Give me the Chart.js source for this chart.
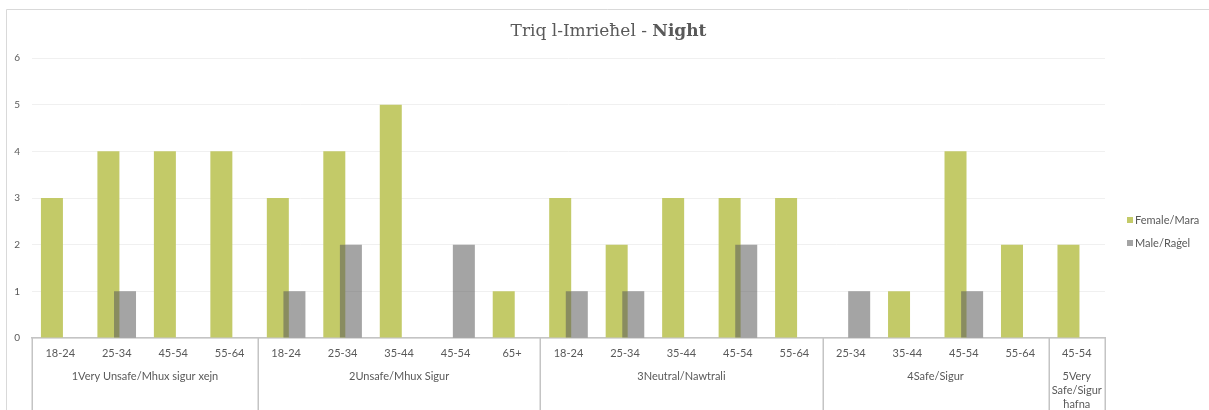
<!DOCTYPE html>
<html>
<head>
<meta charset="utf-8">
<script src="https://cdn.jsdelivr.net/npm/chart.js@4.4.1/dist/chart.umd.min.js"></script>
<style>
  html, body { margin: 0; padding: 0; background: #ffffff; }
  #wrap { width: 1209px; height: 410px; position: relative; }
</style>
</head>
<body>
<div id="wrap"><canvas id="chart" width="1209" height="410"></canvas></div>
<script>
// Survey answers: how safe respondents feel on Triq l-Imrieħel at night,
// split by answer group and age band.
const titleMain = 'Triq l-Imrieħel - ';
const titleBold = 'Night';
const groupLabels = ['1Very Unsafe/Mhux sigur xejn', '2Unsafe/Mhux Sigur', '3Neutral/Nawtrali', '4Safe/Sigur', '5Very Safe/Sigur ħafna'];
const groupSizes = [4, 5, 5, 4, 1];
const ageLabels = [
  '18-24', '25-34', '45-54', '55-64',
  '18-24', '25-34', '35-44', '45-54', '65+',
  '18-24', '25-34', '35-44', '45-54', '55-64',
  '25-34', '35-44', '45-54', '55-64',
  '45-54'
];
const femaleCounts = [3, 4, 4, 4, 3, 4, 5, null, 1, 3, 2, 3, 3, 3, null, 1, 4, 2, 2];
const maleCounts = [null, 1, null, null, 1, 2, null, 2, null, 1, 1, null, 2, null, 1, null, 1, null, null];
const seriesNames = ['Female/Mara', 'Male/Raġel'];
const yMax = 6;

const GREEN = 'rgb(195,202,104)';
const GREY = 'rgba(89,89,89,0.55)';
const TEXT = '#595959';
const LINE = '#c4c4c4';
const FONT = 'Lato, "Open Sans", sans-serif';

// White background plus the thin frame round the chart.
const framePlugin = {
  id: 'frame',
  beforeDraw(chart) {
    const ctx = chart.ctx;
    ctx.save();
    ctx.fillStyle = '#ffffff';
    ctx.fillRect(0, 0, chart.width, chart.height);
    ctx.strokeStyle = '#d9d9d9';
    ctx.lineWidth = 1;
    ctx.beginPath();
    ctx.moveTo(6.5, chart.height);
    ctx.lineTo(6.5, 9.5);
    ctx.lineTo(chart.width, 9.5);
    ctx.stroke();
    ctx.restore();
  }
};

// Title with the last word in bold.
const titlePlugin = {
  id: 'mixedTitle',
  afterDraw(chart) {
    const ctx = chart.ctx;
    ctx.save();
    const regular = '17px "DejaVu Serif", "Liberation Serif", serif';
    const bold = 'bold 17px "DejaVu Serif", "Liberation Serif", serif';
    ctx.font = regular;
    const w1 = ctx.measureText(titleMain).width;
    ctx.font = bold;
    const w2 = ctx.measureText(titleBold).width;
    const x0 = chart.width / 2 + 4 - (w1 + w2) / 2;
    const y = 32;
    ctx.fillStyle = TEXT;
    ctx.textBaseline = 'middle';
    ctx.textAlign = 'left';
    ctx.font = regular;
    ctx.fillText(titleMain, x0, y);
    ctx.font = bold;
    ctx.fillText(titleBold, x0 + w1, y);
    ctx.restore();
  }
};

// Second row of the category axis: answer groups with separators.
const groupAxisPlugin = {
  id: 'groupAxis',
  afterDraw(chart) {
    const scale = chart.scales.x;
    const ctx = chart.ctx;
    const n = ageLabels.length;
    const step = (scale.right - scale.left) / n;
    ctx.save();
    ctx.strokeStyle = LINE;
    ctx.lineWidth = 1.5;
    let idx = 0;
    const edges = [0];
    groupSizes.forEach(s => { idx += s; edges.push(idx); });
    edges.forEach(e => {
      const x = Math.round(scale.left + e * step) + 0.25;
      ctx.beginPath();
      ctx.moveTo(x, scale.top);
      ctx.lineTo(x, chart.height);
      ctx.stroke();
    });
    ctx.fillStyle = TEXT;
    ctx.font = '11px ' + FONT;
    ctx.textAlign = 'center';
    ctx.textBaseline = 'middle';
    groupLabels.forEach((label, g) => {
      const a = scale.left + edges[g] * step;
      const b = scale.left + edges[g + 1] * step;
      const maxW = b - a - 6;
      const words = label.split(' ');
      const lines = [];
      let cur = '';
      words.forEach(w => {
        const t = cur ? cur + ' ' + w : w;
        if (cur && ctx.measureText(t).width > maxW) { lines.push(cur); cur = w; }
        else cur = t;
      });
      if (cur) lines.push(cur);
      lines.forEach((ln, i) => ctx.fillText(ln, (a + b) / 2, 376 + i * 14));
    });
    ctx.restore();
  }
};

// Legend at the right, vertically centred on the plot.
const legendPlugin = {
  id: 'sideLegend',
  afterDraw(chart) {
    const ctx = chart.ctx;
    const colors = [GREEN, 'rgb(164,164,164)'];
    ctx.save();
    ctx.font = '11px ' + FONT;
    ctx.textBaseline = 'middle';
    ctx.textAlign = 'left';
    seriesNames.forEach((name, i) => {
      const y = 220 + i * 23;
      ctx.fillStyle = colors[i];
      ctx.fillRect(1127, y - 3, 6, 6);
      ctx.fillStyle = TEXT;
      ctx.fillText(name, 1135, y);
    });
    ctx.restore();
  }
};

// Draw the series in dataset order so the male bars sit over the female ones.
const drawOrderPlugin = {
  id: 'drawOrder',
  beforeDatasetsDraw(chart) {
    const metas = chart.getSortedVisibleDatasetMetas().slice().sort((a, b) => a.index - b.index);
    metas.forEach(meta => meta.controller.draw());
    return false;
  }
};

new Chart(document.getElementById('chart'), {
  type: 'bar',
  data: {
    labels: ageLabels,
    datasets: [
      { label: seriesNames[0], data: femaleCounts, backgroundColor: GREEN, borderWidth: 0 },
      { label: seriesNames[1], data: maleCounts, backgroundColor: GREY, borderWidth: 0 }
    ]
  },
  options: {
    responsive: false,
    animation: false,
    devicePixelRatio: 1,
    categoryPercentage: 0.588,
    barPercentage: 1.325,
    layout: { padding: { left: 0, right: 104, top: 58, bottom: 0 } },
    plugins: {
      legend: { display: false },
      title: { display: false },
      tooltip: { enabled: false }
    },
    scales: {
      x: {
        offset: true,
        grid: { display: false, drawTicks: false },
        border: { display: true, color: LINE, width: 1.5 },
        ticks: {
          color: TEXT,
          font: { family: FONT, size: 11 },
          padding: 9,
          maxRotation: 0,
          autoSkip: false
        },
        afterFit(scale) { scale.height = 72; }
      },
      y: {
        min: 0,
        max: yMax,
        grid: { color: '#f0f0f0', lineWidth: 1, drawTicks: false },
        border: { display: false },
        ticks: {
          stepSize: 1,
          color: TEXT,
          font: { family: FONT, size: 10 },
          padding: 12
        },
        afterFit(scale) { scale.width = 32; }
      }
    }
  },
  plugins: [framePlugin, drawOrderPlugin, groupAxisPlugin, titlePlugin, legendPlugin]
});
</script>
</body>
</html>
